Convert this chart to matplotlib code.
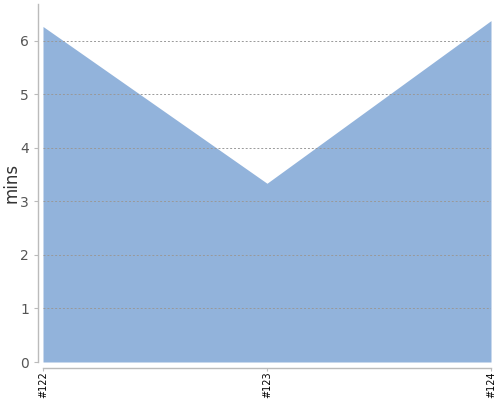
import matplotlib
matplotlib.use("Agg")
import matplotlib.pyplot as plt

# build ids and durations (mins)
builds = ["#122", "#123", "#124"]
durations = [6.27, 3.34, 6.38]
y_ticks = [0, 1, 2, 3, 4, 5, 6]

fig = plt.figure(figsize=(5, 4), dpi=100)
ax = fig.add_axes([0.086, 0.095, 0.896, 0.895])

x = list(range(len(builds)))
ax.fill_between(x, 0, durations, color="#92b3db", linewidth=0, zorder=1)

# dashed grid drawn over the area
for t in y_ticks[1:]:
    ax.axhline(t, color="#999999", linestyle=(0, (2, 2)), linewidth=0.7, zorder=2)

ax.set_xlim(0, len(builds) - 1)
ax.set_ylim(0, 6.69)
ax.set_yticks(y_ticks)
ax.set_xticks(x)
ax.set_xticklabels(builds)
ax.set_ylabel("mins", fontsize=12, color="#333333", labelpad=0)

for side in ["top", "right"]:
    ax.spines[side].set_visible(False)
ax.spines["left"].set_position(("outward", 3.5))
ax.spines["bottom"].set_position(("outward", 4))
for side in ["left", "bottom"]:
    ax.spines[side].set_color("#bbbbbb")
    ax.spines[side].set_linewidth(1)

ax.tick_params(axis="y", colors="#bbbbbb", labelcolor="#555555", labelsize=10, length=3)
ax.tick_params(axis="x", colors="#bbbbbb", labelcolor="black", labelsize=7,
               labelrotation=90, length=2, pad=1)

fig.savefig("out.png", dpi=100)
